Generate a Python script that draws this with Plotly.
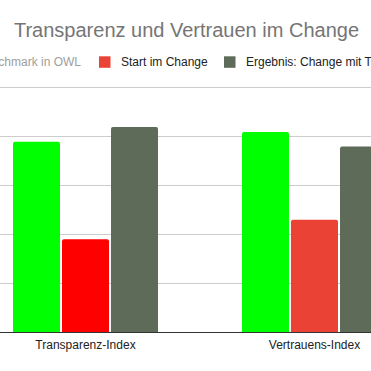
import plotly.graph_objects as go

categories = ["Transparenz-Index", "Vertrauens-Index"]
series_names = ["Benchmark in OWL", "Start im Change", "Ergebnis: Change mit Transparenz"]
benchmark = [78, 82]
start = [38, 46]
ergebnis = [84, 76]

W, H = 371, 371
T, B = 86, 39
YMAX = 100.8
plot_h = H - T - B

def py(p):
    return (H - B - p) / plot_h

def px(p):
    return p / W

FONT = "Liberation Sans, Arial, sans-serif"
GREEN = "#00ff00"
RED_A = "#ff0000"
RED_B = "#ea4335"
DARK = "#5e6b58"

fig = go.Figure()
fig.add_trace(go.Bar(x=[0, 1], y=benchmark, name=series_names[0],
                     marker=dict(color=GREEN, line=dict(width=0)), showlegend=False))
fig.add_trace(go.Bar(x=[0, 1], y=start, name=series_names[1],
                     marker=dict(color=[RED_A, RED_B], line=dict(width=0)), showlegend=False))
fig.add_trace(go.Bar(x=[0, 1], y=ergebnis, name=series_names[2],
                     marker=dict(color=DARK, line=dict(width=0)), showlegend=False))

# custom legend (clipped like the reference)
legend_items = [
    (series_names[0], GREEN, "#9e9e9e", 79 - 104),
    (series_names[1], RED_B, "#222222", 119),
    (series_names[2], DARK, "#222222", 244),
]
shapes = []
annotations = []
for name, col, tcol, tx in legend_items:
    sx0 = tx - 20
    shapes.append(dict(type="rect", xref="paper", yref="paper",
                       x0=px(sx0), x1=px(sx0 + 11.5), y0=py(67.8), y1=py(56.3),
                       fillcolor=col, line=dict(width=0)))
    annotations.append(dict(text=name, xref="paper", yref="paper", x=px(tx), y=py(62),
                            xanchor="left", yanchor="middle", showarrow=False,
                            font=dict(family=FONT, size=12, color=tcol)))

fig.update_layout(
    width=W, height=H,
    margin=dict(l=0, r=0, t=T, b=B, autoexpand=False),
    paper_bgcolor="white", plot_bgcolor="white",
    barmode="group", bargap=0.358, bargroupgap=0.041, barcornerradius=2,
    title=dict(text="Transparenz und Vertrauen im Change", x=186.5 / W, xanchor="center",
               y=1 - 30 / H, yanchor="middle",
               font=dict(family=FONT, size=20, color="#757575")),
    xaxis=dict(range=[-85.5 / 229, (W - 85.5) / 229], tickvals=[0, 1], ticktext=categories,
               showgrid=False, zeroline=False, showline=False, ticks="",
               ticklabelstandoff=4,
               tickfont=dict(family=FONT, size=12, color="#222222")),
    yaxis=dict(range=[0, YMAX], tickvals=[20, 40, 60, 80, 100], showticklabels=False,
               showgrid=True, gridcolor="#cccccc", gridwidth=1, zeroline=True,
               zerolinecolor="#333333", zerolinewidth=1, ticks=""),
    shapes=shapes, annotations=annotations,
    showlegend=False,
)
fig.write_html("out.html", config={"displayModeBar": False},
               post_script="document.body.style.margin='0';document.body.style.overflow='hidden';")
